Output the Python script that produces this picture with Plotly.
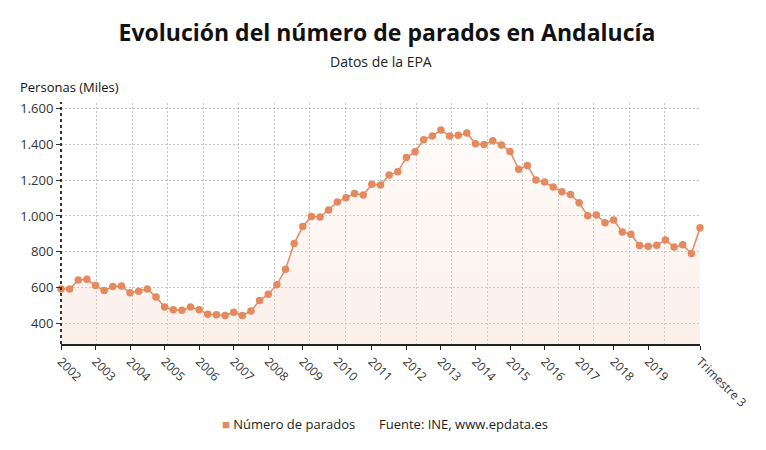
import plotly.graph_objects as go

years = list(range(2002, 2021))
quarters = [f"{y} T{q}" for y in years for q in (1, 2, 3, 4)][:75]
parados = [592, 592, 642, 646, 611, 583, 605, 609, 570, 579, 592, 547,
           491, 476, 473, 491, 476, 450, 448, 443, 462, 443, 469, 527,
           562, 616, 702, 846, 941, 997, 994, 1034, 1078, 1102, 1126, 1117,
           1178, 1174, 1229, 1247, 1327, 1359, 1427, 1447, 1481, 1447, 1451, 1464,
           1404, 1400, 1421, 1397, 1361, 1262, 1283, 1201, 1190, 1162, 1135, 1120,
           1074, 1001, 1006, 962, 977, 911, 898, 835, 831, 837, 866, 826,
           839, 790, 934]
tick_labels = [str(y) for y in range(2002, 2020)] + ["Trimestre 3"]
tick_idx = [quarters.index(f"{y} T1") for y in range(2002, 2020)] + [len(quarters) - 1]
series_name = "Número de parados"
source_text = "Fuente: INE, www.epdata.es"

color = "#e5895e"
xi = list(range(len(quarters)))

# page body has an 8px margin: compensate so the figure sits at the window origin
OFF = 8
W, H = 766 - OFF, 450 - OFF
L, R, T, B = 61 - OFF, 66, 103 - OFF, 106
PH = H - T - B  # plot height in px


def py(y_page):
    """page pixel y -> paper y"""
    return ((H - B) - (y_page - OFF)) / PH


def px(x_page):
    return ((x_page - OFF) - L) / (W - L - R)


fig = go.Figure()
fig.add_trace(go.Scatter(
    x=xi, y=parados, mode="lines+markers", showlegend=False,
    line=dict(color=color, width=1.5),
    marker=dict(color=color, size=7.5),
    fill="tozeroy",
    fillgradient=dict(type="vertical",
                      colorscale=[[0, "rgba(243,205,186,0.40)"], [1, "rgba(250,225,212,0.14)"]]),
    hovertext=quarters,
    cliponaxis=False,
))
# invisible trace for the evenly spaced grid axis
fig.add_trace(go.Scatter(x=[0, 18], y=[None, None], xaxis="x2", showlegend=False,
                         mode="markers", marker=dict(opacity=0), hoverinfo="skip"))

fig.update_layout(
    width=W, height=H,
    margin=dict(l=L, r=R, t=T, b=B),
    paper_bgcolor="white", plot_bgcolor="white",
    font=dict(family="Open Sans", color="#333", size=13),
    separators=",.",
    showlegend=False,
    title=dict(text="<b>Evolución del número de parados en Andalucía</b>",
               x=0.5, xanchor="center", y=1 - (33 - OFF) / H, yanchor="middle",
               font=dict(size=23, color="#111", family="Open Sans")),
    xaxis=dict(range=[0, len(quarters) - 1], tickmode="array", tickvals=tick_idx,
               ticktext=tick_labels, tickangle=45, showgrid=False, zeroline=False,
               showline=True, linecolor="#222", linewidth=1.5,
               ticks="outside", ticklen=4, tickcolor="#222",
               tickfont=dict(size=12, color="#333")),
    xaxis2=dict(overlaying="x", range=[0, 18], tickmode="linear", tick0=0, dtick=1,
                showgrid=True, gridcolor="#c4c4c4", griddash="2px,2px", gridwidth=1,
                showticklabels=False, ticks="", zeroline=False, showline=False),
    yaxis=dict(range=[284, 1632], tickmode="linear", tick0=400, dtick=200,
               tickformat=",d", showgrid=True, gridcolor="#c4c4c4", griddash="2px,2px",
               zeroline=False, showline=False, ticks="outside", ticklen=4,
               tickcolor="#333", tickfont=dict(size=13, color="#333")),
    shapes=[dict(type="line", xref="paper", yref="paper", x0=0, x1=0, y0=0, y1=py(102),
                 line=dict(color="#333", width=2, dash="dot"))],
    annotations=[
        dict(text="Datos de la EPA", xref="paper", yref="paper", x=0.5, y=py(62),
             xanchor="center", yanchor="middle", showarrow=False,
             font=dict(size=14, color="#222")),
        dict(text="Personas (Miles)", xref="paper", yref="paper", x=px(18), y=py(87),
             xanchor="left", yanchor="middle", showarrow=False,
             font=dict(size=13, color="#111")),
        dict(text=f"<span style='color:{color}'>■</span> {series_name}",
             xref="paper", yref="paper", x=px(220), y=py(424), xanchor="left",
             yanchor="middle", showarrow=False, font=dict(size=13, color="#222")),
        dict(text=source_text, xref="paper", yref="paper",
             x=px(377), y=py(424), xanchor="left", yanchor="middle",
             showarrow=False, font=dict(size=13, color="#222")),
    ],
)
fig.write_html("out.html")
